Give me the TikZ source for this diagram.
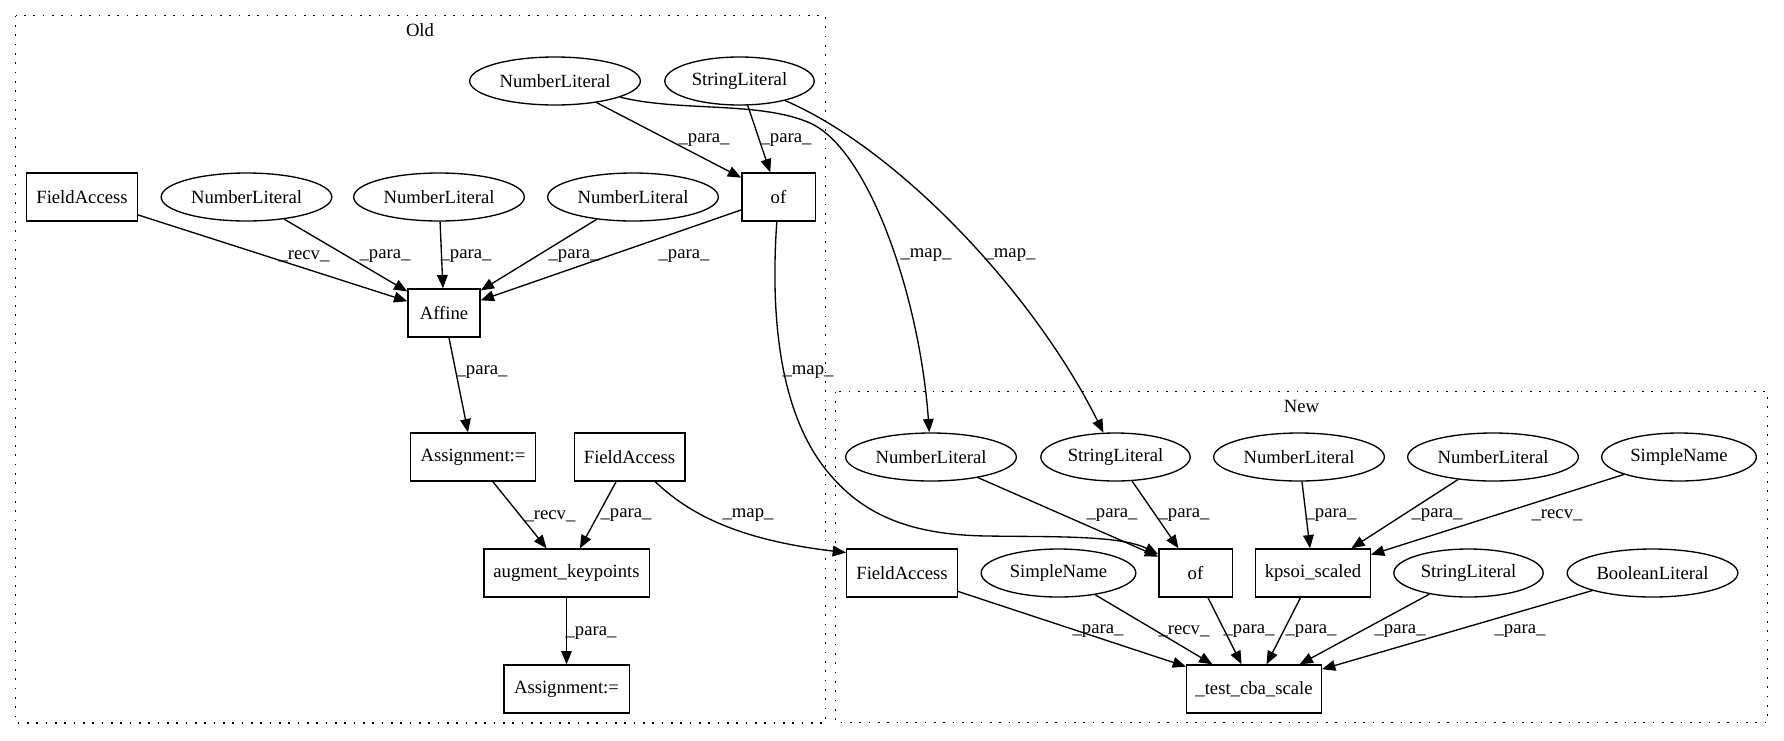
\documentclass[tikz,border=0pt]{standalone}
\usepackage{fontspec}
\setmainfont{Liberation Serif}
\usetikzlibrary{shapes.geometric, arrows.meta}
\begin{document}
\begin{tikzpicture}[x=0.75pt, y=-0.75pt,
  every node/.style={font=\fontsize{14}{16}\selectfont},
  rbox/.style={draw, rectangle, line width=1pt, minimum height=36pt, inner sep=0pt},
  oval/.style={draw, ellipse, line width=1pt, minimum height=36pt, inner sep=0pt},
  conn/.style={line width=1pt, -{Triangle[length=10pt, width=8pt]}},
  lbl/.style={inner sep=0pt},
  cluster/.style={line width=1pt, dash pattern=on 1.2pt off 5.8pt}]
\useasboundingbox (0,0) rectangle (1784,740);

% clusters
\draw[cluster] (15.7,15.7) rectangle (825.3,723);
\draw[cluster] (835.7,391.7) rectangle (1767.3,722.7);
\node (oldlbl) at (420,30) {Old};
\node (newlbl) at (1301.5,406) {New};

% Old nodes
\node[oval, minimum width=128pt] (oNLt) at (555,81) {NumberLiteral};
\node[oval, minimum width=112pt] (oSLt) at (739.5,81) {StringLiteral};
\node[rbox, minimum width=83pt] (oFA) at (82,197) {FieldAccess};
\node[oval, minimum width=128pt] (oNLa) at (246.5,197) {NumberLiteral};
\node[oval, minimum width=128pt] (oNLb) at (439,197) {NumberLiteral};
\node[oval, minimum width=128pt] (oNLc) at (633,197) {NumberLiteral};
\node[rbox, minimum width=55pt] (oOf) at (778.5,197) {of};
\node[rbox, minimum width=54pt] (oAff) at (444,313) {Affine};
\node[rbox, minimum width=94pt] (oAs1) at (473,457) {Assignment:=};
\node[rbox, minimum width=83pt] (oFA2) at (629.5,457) {FieldAccess};
\node[rbox, minimum width=124pt] (oAug) at (566.5,573) {augment\_keypoints};
\node[rbox, minimum width=94pt] (oAs2) at (566.5,689) {Assignment:=};

% New nodes
\node[oval, minimum width=128pt] (nNL1) at (931,457) {NumberLiteral};
\node[oval, minimum width=112pt] (nSL1) at (1115.5,457) {StringLiteral};
\node[oval, minimum width=128pt] (nNL2) at (1299,457) {NumberLiteral};
\node[oval, minimum width=128pt] (nNL3) at (1493,457) {NumberLiteral};
\node[oval, minimum width=116pt] (nSN2) at (1679,457) {SimpleName};
\node[rbox, minimum width=83pt] (nFA) at (902,573) {FieldAccess};
\node[oval, minimum width=116pt] (nSN1) at (1058.5,573) {SimpleName};
\node[rbox, minimum width=55pt] (nOf) at (1195.5,573) {of};
\node[rbox, minimum width=86pt] (nKp) at (1313,573) {kpsoi\_scaled};
\node[oval, minimum width=112pt] (nSL2) at (1468.5,573) {StringLiteral};
\node[oval, minimum width=128pt] (nBL) at (1652.5,573) {BooleanLiteral};
\node[rbox, minimum width=101pt] (nTest) at (1254,689) {\_test\_cba\_scale};

% Old edges
\draw[conn] (oNLt) -- (oOf);
\draw[conn] (oSLt) -- (oOf);
\draw[conn] (oFA) -- (oAff);
\draw[conn] (oNLa) -- (oAff);
\draw[conn] (oNLb) -- (oAff);
\draw[conn] (oNLc) -- (oAff);
\draw[conn] (oOf) -- (oAff);
\draw[conn] (oAff) -- (oAs1);
\draw[conn] (oAs1) -- (oAug);
\draw[conn] (oFA2) -- (oAug);
\draw[conn] (oAug) -- (oAs2);

% map edges
\draw[conn] (oNLt) .. controls (680,112) and (760,101) .. (810,123) .. controls (870,150) and (920,300) .. (nNL1);
\draw[conn] (oSLt) .. controls (900,150) and (1035,295) .. (nSL1);
\draw[conn] (oOf) .. controls (770,320) and (780,420) .. (833,478) .. controls (870,520) and (920,535) .. (987,536) .. controls (1050,537) and (1120,535) .. (nOf);
\draw[conn] (oFA2) .. controls (690,515) and (740,540) .. (nFA.160);

% New edges
\draw[conn] (nNL1) -- (nOf);
\draw[conn] (nSL1) -- (nOf);
\draw[conn] (nNL2) -- (nKp);
\draw[conn] (nNL3) -- (nKp);
\draw[conn] (nSN2) -- (nKp);
\draw[conn] (nFA) -- (nTest);
\draw[conn] (nSN1) -- (nTest);
\draw[conn] (nOf) -- (nTest);
\draw[conn] (nKp) -- (nTest);
\draw[conn] (nSL2) -- (nTest);
\draw[conn] (nBL) -- (nTest);

% edge labels
\node[lbl] (l1) at (704,140) {\_para\_};
\node[lbl] (l2) at (786,140) {\_para\_};
\node[lbl] (l3) at (304,256) {\_recv\_};
\node[lbl] (l4) at (385,256) {\_para\_};
\node[lbl] (l5) at (466,256) {\_para\_};
\node[lbl] (l6) at (574,256) {\_para\_};
\node[lbl] (l7) at (684,256) {\_para\_};
\node[lbl] (l8) at (482,372) {\_para\_};
\node[lbl] (l9) at (550,516) {\_recv\_};
\node[lbl] (l10) at (626,515) {\_para\_};
\node[lbl] (l11) at (591,633) {\_para\_};
\node[lbl] (l12) at (748,515) {\_map\_};
\node[lbl] (l13) at (808,372) {\_map\_};
\node[lbl] (l14) at (926,255) {\_map\_};
\node[lbl] (l15) at (1010,255) {\_map\_};
\node[lbl] (l16) at (1112,515) {\_para\_};
\node[lbl] (l17) at (1184,515) {\_para\_};
\node[lbl] (l18) at (1331,515) {\_para\_};
\node[lbl] (l19) at (1437,515) {\_para\_};
\node[lbl] (l20) at (1557,515) {\_recv\_};
\node[lbl] (l21) at (1098,631) {\_para\_};
\node[lbl] (l22) at (1184,631) {\_recv\_};
\node[lbl] (l23) at (1249,631) {\_para\_};
\node[lbl] (l24) at (1311,631) {\_para\_};
\node[lbl] (l25) at (1400,631) {\_para\_};
\node[lbl] (l26) at (1520,631) {\_para\_};
\end{tikzpicture}
\end{document}
